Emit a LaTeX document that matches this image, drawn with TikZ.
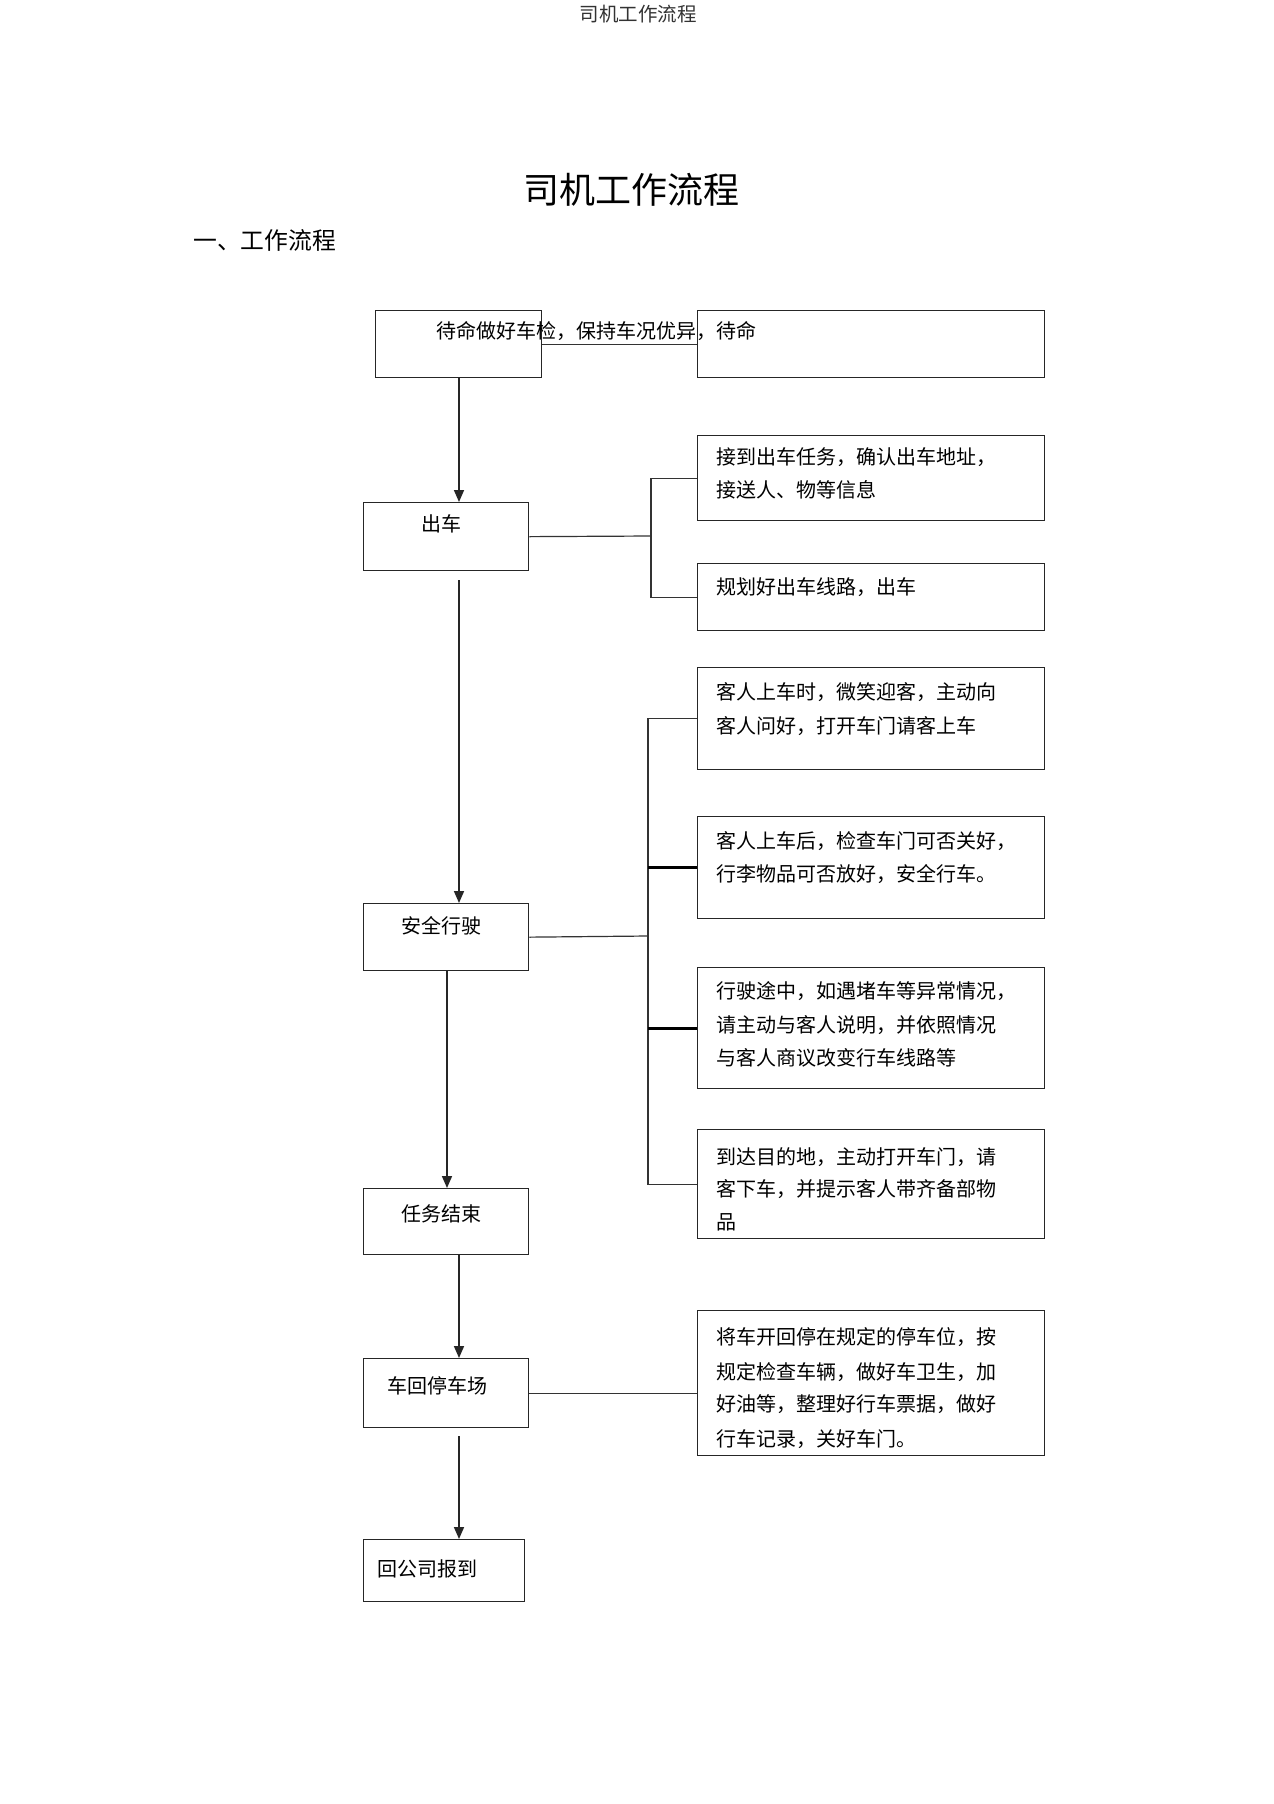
\documentclass[tikz,border=0pt]{standalone}
\usepackage{fontspec}
\setmainfont{Noto Sans CJK SC}
\usetikzlibrary{arrows.meta,calc}
\begin{document}
\begin{tikzpicture}[x=1pt,y=-1pt,
  box/.style={draw=black!85, line width=1.3pt, inner sep=0pt, anchor=north west},
  txt/.style={inner sep=0pt, anchor=west, font=\fontsize{20}{20}\selectfont},
  ctxt/.style={inner sep=0pt, anchor=center, font=\fontsize{20}{20}\selectfont},
  conn/.style={draw=black!80, line width=1.2pt},
  thickconn/.style={draw=black, line width=3pt},
  arr/.style={draw=black!85, line width=1.6pt, -{Triangle[length=12pt,width=10pt]}}]
\useasboundingbox (0,0) rectangle (1274,1804);
\fill[white] (0,0) rectangle (1274,1804);

% header and titles
\node[inner sep=0pt, font=\fontsize{19.5}{19.5}\selectfont, text=black!80] (hdr) at (638,14) {司机工作流程};
\node[inner sep=0pt, font=\fontsize{36}{36}\selectfont] (title) at (631,190) {司机工作流程};
\node[inner sep=0pt, anchor=west, font=\fontsize{23.8}{23.8}\selectfont] (sec) at (193,240) {一、工作流程};

% left column boxes
\node[box, minimum width=166pt, minimum height=67pt] (B0) at (375,310) {};
\node[box, minimum width=165pt, minimum height=68pt] (B1) at (363,502) {};
\node[box, minimum width=165pt, minimum height=67pt] (B2) at (363,903) {};
\node[box, minimum width=165pt, minimum height=66pt] (B3) at (363,1188) {};
\node[box, minimum width=165pt, minimum height=69pt] (B4) at (363,1358) {};
\node[box, minimum width=161pt, minimum height=62pt] (B5) at (363,1539) {};

% right column boxes
\node[box, minimum width=347pt, minimum height=67pt] (R0) at (697,310) {};
\node[box, minimum width=347pt, minimum height=85pt] (R1) at (697,435) {};
\node[box, minimum width=347pt, minimum height=67pt] (R2) at (697,563) {};
\node[box, minimum width=347pt, minimum height=102pt] (R3) at (697,667) {};
\node[box, minimum width=347pt, minimum height=102pt] (R4) at (697,816) {};
\node[box, minimum width=347pt, minimum height=121pt] (R5) at (697,967) {};
\node[box, minimum width=347pt, minimum height=109pt] (R6) at (697,1129) {};
\node[box, minimum width=347pt, minimum height=145pt] (R7) at (697,1310) {};

% texts
\node[txt] (t0) at (436,331) {待命做好车检，保持车况优异，待命};
\node[ctxt] (t1) at (441,524) {出车};
\node[ctxt] (t2) at (441,926) {安全行驶};
\node[ctxt] (t3) at (441,1214) {任务结束};
\node[ctxt] (t4) at (437,1386) {车回停车场};
\node[ctxt] (t5) at (427,1569) {回公司报到};

\node[txt] (r1a) at (716,457) {接到出车任务，确认出车地址，};
\node[txt] (r1b) at (716,490) {接送人、物等信息};
\node[txt] (r2a) at (716,587) {规划好出车线路，出车};
\node[txt] (r3a) at (716,692) {客人上车时，微笑迎客，主动向};
\node[txt] (r3b) at (716,726) {客人问好，打开车门请客上车};
\node[txt] (r4a) at (716,841) {客人上车后，检查车门可否关好，};
\node[txt] (r4b) at (716,874) {行李物品可否放好，安全行车。};
\node[txt] (r5a) at (716,991) {行驶途中，如遇堵车等异常情况，};
\node[txt] (r5b) at (716,1025) {请主动与客人说明，并依照情况};
\node[txt] (r5c) at (716,1058) {与客人商议改变行车线路等};
\node[txt] (r6a) at (716,1157) {到达目的地，主动打开车门，请};
\node[txt] (r6b) at (716,1189) {客下车，并提示客人带齐备部物};
\node[txt] (r6c) at (716,1222) {品};
\node[txt] (r7a) at (716,1337) {将车开回停在规定的停车位，按};
\node[txt] (r7b) at (716,1372) {规定检查车辆，做好车卫生，加};
\node[txt] (r7c) at (716,1404) {好油等，整理好行车票据，做好};
\node[txt] (r7d) at (716,1439) {行车记录，关好车门。};

% connectors
\draw[conn] (B0.east) -- (R0.west);

\coordinate (j1) at (651,536);
\draw[conn] (B1.east) -- (j1);
\draw[conn] (R1.west) -| (j1) |- (R2.west);

\coordinate (j2) at (648,936);
\draw[conn] (B2.east) -- (j2);
\draw[conn] (R3.west) -| (j2) |- (R6.west);
\draw[thickconn] (R4.west) -- (R4.west -| j2);
\draw[thickconn] (R5.west) -- (R5.west -| j2);

\draw[conn] (B4.east) -- (B4.east -| R7.west);

% arrows
\draw[arr] (B0.south -| 459,0) -- (B1.north -| 459,0);
\draw[arr] ([yshift=-9pt]B1.south -| 459,0) -- (B2.north -| 459,0);
\draw[arr] (B2.south -| 447,0) -- (B3.north -| 447,0);
\draw[arr] (B3.south -| 459,0) -- (B4.north -| 459,0);
\draw[arr] ([yshift=-8pt]B4.south -| 459,0) -- (B5.north -| 459,0);
\end{tikzpicture}
\end{document}
